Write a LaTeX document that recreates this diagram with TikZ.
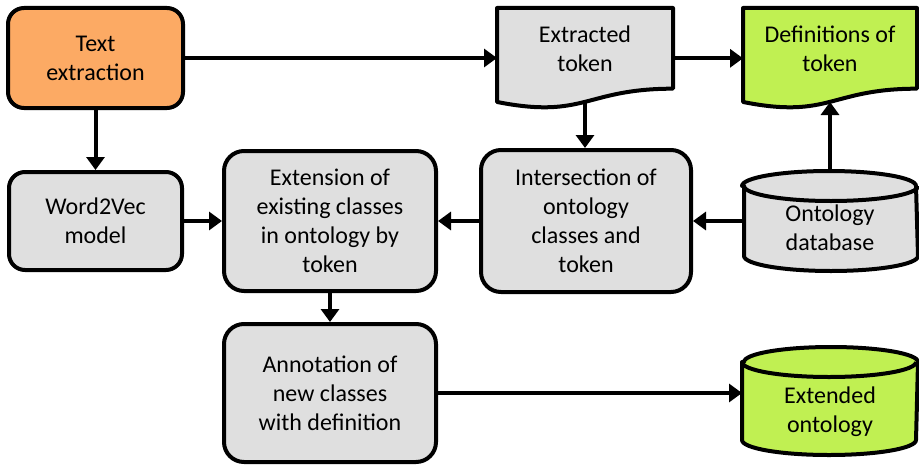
\documentclass[tikz,border=0pt]{standalone}
\usepackage{fontspec}
\setmainfont{Carlito}
\usetikzlibrary{positioning,calc,arrows.meta,backgrounds}
\definecolor{boxgray}{RGB}{223,223,223}
\definecolor{boxorange}{RGB}{252,170,100}
\definecolor{boxgreen}{RGB}{192,240,82}

\begin{document}
\begin{tikzpicture}[x=0.5pt,y=0.5pt, font=\fontsize{12}{14.5}\selectfont,
            proc/.style={rectangle,rounded corners=8pt,draw=black,line width=2pt,fill=boxgray,align=center},
            bigproc/.style={proc,rounded corners=10pt},
            plain/.style={rectangle,inner sep=0pt,outer sep=0pt,minimum width=87pt},
            lbl/.style={align=center},
            outline/.style={line width=2pt,line join=round},
            arr/.style={line width=2pt,-{Triangle[length=6.5pt,width=9pt]}}]

            \useasboundingbox (0,0) rectangle (919,467);

            \node[proc, fill=boxorange, minimum width=87.5pt, minimum height=50pt] (textex) at (95.5,409) {Text\\extraction};
            \node[proc, minimum width=86.5pt, minimum height=49pt, below=30pt of textex] (w2v) {Word2Vec\\model};
            \node[bigproc, minimum width=106pt, minimum height=70pt, right=19pt of w2v] (ext) {Extension of\\existing classes\\in ontology by\\token};
            \node[bigproc, minimum width=105pt, minimum height=71pt, right=20.5pt of ext] (inter) {Intersection of\\ontology\\classes and\\token};
            \node[plain, minimum width=86pt, minimum height=50pt, right=25.5pt of inter,
                  label={[lbl,yshift=-3.5pt]center:Ontology\\database}] (odb) {};
            \node[bigproc, minimum width=106pt, minimum height=69pt, below=14.5pt of ext] (ann) {Annotation of\\new classes\\with definition};
            \node[plain, minimum width=88pt, minimum height=54pt,
                  label={[lbl,yshift=-5.5pt]center:Extended\\ontology}] (extd) at (830,66) {};
            \node[plain, minimum width=88pt, minimum height=50.3pt,
                  label={[lbl,yshift=5pt]center:Extracted\\token}] (tok) at (585,408.7) {};
            \node[plain, minimum width=87pt, minimum height=50.3pt,
                  label={[lbl,yshift=5pt]center:Definitions of\\token}] (defs) at (830,408.7) {};

            \begin{scope}[on background layer]
               \foreach \n/\c in {tok/boxgray, defs/boxgreen}
                  \filldraw[outline, fill=\c] (\n.north west) -- (\n.north east) -- ($(\n.north east)!0.802!(\n.south east)$)
                     .. controls ($(\n.north)!0.802!(\n.south)$) and ($(\n.north)!1.107!(\n.south)$) .. ($(\n.north west)!0.934!(\n.south west)$) -- cycle;
               \foreach \n/\c in {odb/boxgray, extd/boxgreen}{
                  \filldraw[outline, fill=\c] ([yshift=-7.5pt]\n.north west) -- ([yshift=7.5pt]\n.south west)
                     arc[start angle=180,end angle=360,x radius=43.5pt,y radius=7.5pt] -- ([yshift=-7.5pt]\n.north east)
                     arc[start angle=0,end angle=180,x radius=43.5pt,y radius=7.5pt] -- cycle;
                  \draw[outline] ([yshift=-7.5pt]\n.north west) arc[start angle=180,end angle=360,x radius=43.5pt,y radius=7.5pt];
               }
            \end{scope}

            \draw[arr] (textex.east) -- (tok.west |- textex.east);
            \draw[arr] (textex) -- (w2v);
            \draw[arr] (tok.east) -- (defs.west);
            \draw[arr] ([yshift=3.3pt]tok.south) -- (tok.south |- inter.north);
            \draw[arr] (odb.north) -- ([yshift=3.3pt]odb.north |- defs.south);
            \draw[arr] (odb.west) -- (inter.east);
            \draw[arr] (inter) -- (ext);
            \draw[arr] (w2v) -- (ext);
            \draw[arr] (ext) -- (ann);
            \draw[arr] (ann.east) -- (extd.west |- ann.east);
         \end{tikzpicture}
\end{document}
